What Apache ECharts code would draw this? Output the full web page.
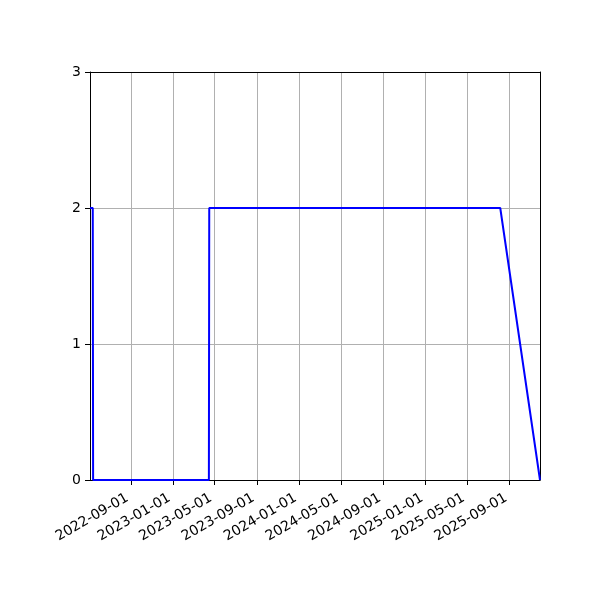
<!DOCTYPE html>
<html>
<head>
<meta charset="utf-8">
<script src="https://cdn.jsdelivr.net/npm/echarts@6/dist/echarts.min.js"></script>
<style>
  html, body { margin: 0; padding: 0; background: #fff; }
  #chart { width: 600px; height: 600px; }
</style>
</head>
<body>
<div id="chart"></div>
<script>
// step line in dates
const dates = ["2022-05-06", "2022-05-14", "2022-05-15", "2023-04-15", "2023-04-16", "2025-08-05", "2025-11-28"];
const values = [2, 2, 0, 0, 2, 2, 0];
const tickDates = ["2022-09-01", "2023-01-01", "2023-05-01", "2023-09-01", "2024-01-01",
  "2024-05-01", "2024-09-01", "2025-01-01", "2025-05-01", "2025-09-01"];
const yTicks = [0, 1, 2, 3];

const toTs = (d) => Date.parse(d + "T00:00:00Z");
const tickTs = tickDates.map(toTs);
const pad = (n) => (n < 10 ? "0" + n : "" + n);
const xMin = toTs(dates[0]);
const xMax = toTs(dates[dates.length - 1]);

const chart = echarts.init(document.getElementById("chart"));

// plain frame axes for top / right spines
const spine = (pos) => ({
  type: "value",
  position: pos,
  axisLine: { show: true, onZero: false, lineStyle: { color: "#000", width: 1 } },
  axisTick: { show: false },
  axisLabel: { show: false },
  splitLine: { show: false },
});

// time stored as plain ms values so the month ticks can be placed by hand
const option = {
  animation: false,
  backgroundColor: "#fff",
  grid: {
    left: 90,
    right: 60,
    top: 72,
    bottom: 120,
  },
  xAxis: [
    {
      type: "value",
      min: xMin,
      max: xMax,
      axisLine: { show: true, onZero: false, lineStyle: { color: "#000", width: 1 } },
      axisTick: {
        show: true,
        customValues: tickTs,
        length: 5,
        lineStyle: { color: "#000", width: 1 },
      },
      axisLabel: {
        customValues: tickTs,
        rotate: 30,
        color: "#000",
        fontFamily: "DejaVu Sans",
        fontSize: 14,
        margin: 15,
        padding: [0, 4, 0, 0],
        formatter: (v) => {
          const d = new Date(v);
          return d.getUTCFullYear() + "-" + pad(d.getUTCMonth() + 1) + "-" + pad(d.getUTCDate());
        },
      },
      splitLine: { show: true, lineStyle: { color: "#b0b0b0", width: 1 } },
    },
    Object.assign(spine("top"), { min: xMin, max: xMax }),
  ],
  yAxis: [
    {
      type: "value",
      min: yTicks[0],
      max: yTicks[yTicks.length - 1],
      interval: 1,
      axisLine: { show: true, lineStyle: { color: "#000", width: 1 } },
      axisTick: { show: true, length: 5, lineStyle: { color: "#000", width: 1 } },
      axisLabel: {
        color: "#000",
        fontFamily: "DejaVu Sans",
        fontSize: 14,
        margin: 9,
      },
      splitLine: { show: true, lineStyle: { color: "#b0b0b0", width: 1 } },
    },
    Object.assign(spine("right"), { min: yTicks[0], max: yTicks[yTicks.length - 1] }),
  ],
  series: [
    {
      type: "line",
      data: dates.map((d, i) => [toTs(d), values[i]]),
      symbol: "none",
      lineStyle: { color: "#0000ff", width: 2 },
      z: 3,
    },
  ],
};

chart.setOption(option);
</script>
</body>
</html>
